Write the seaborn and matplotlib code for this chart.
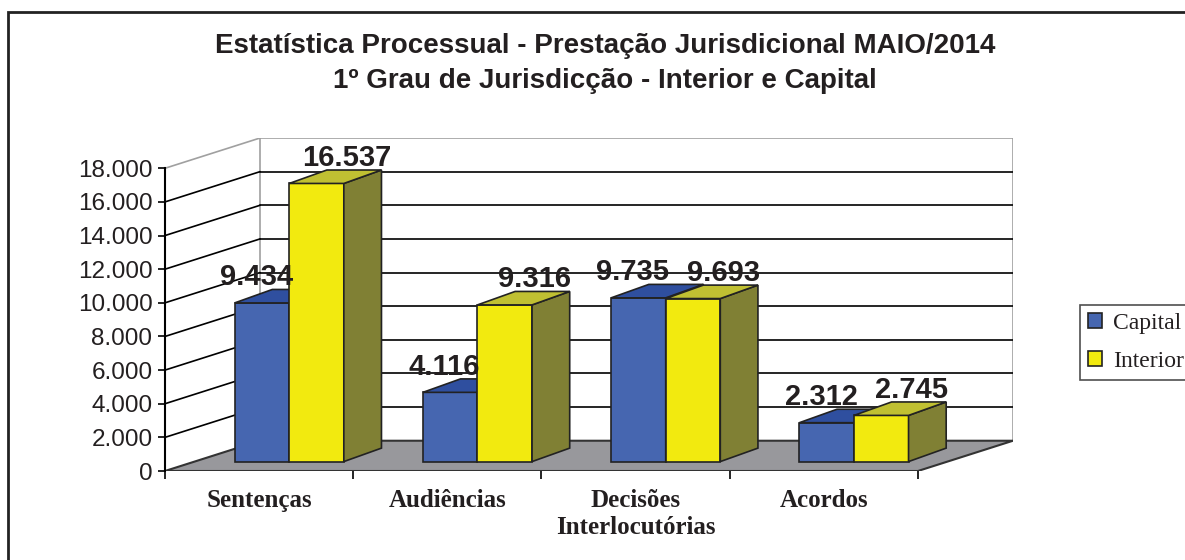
import pandas as pd
import matplotlib
matplotlib.use("Agg")
import matplotlib.pyplot as plt
import seaborn as sns
from matplotlib.patches import Polygon, Rectangle
from matplotlib.ticker import FixedLocator

# dados do grafico
categorias = ["Sentenças", "Audiências", "Decisões\nInterlocutórias", "Acordos"]
series = ["Capital", "Interior"]
capital = [9434, 4116, 9735, 2312]
interior = [16537, 9316, 9693, 2745]
yticks = [0, 2000, 4000, 6000, 8000, 10000, 12000, 14000, 16000, 18000]

df = pd.DataFrame({
    "categoria": categorias * 2,
    "serie": [series[0]] * len(capital) + [series[1]] * len(interior),
    "valor": capital + interior,
})

# cores (frente, topo, lado)
cores = {
    "Capital": ("#4666b0", "#2f4f9f", "#2b3f80"),
    "Interior": ("#f2ea0f", "#c0c032", "#808034"),
}
TXT = "#231f20"

# profundidade do "3D"
DX, DY = 0.505, 1800       # fundo do grafico
OX, OY = 0.16, 560         # recuo da frente das barras
BX, BY = 0.20, 800         # profundidade das barras

sns.set_theme(style="white")
plt.rcParams["font.family"] = ["Liberation Sans", "DejaVu Sans"]
serif = ["Liberation Serif", "DejaVu Serif"]

W, H = 1185, 560
fig = plt.figure(figsize=(W / 100, H / 100), dpi=100)
ax = fig.add_axes([165 / W, 1 - 471 / H, (1013 - 165) / W, (471 - 138) / H])
ax.set_facecolor("none")

x0, x1 = -0.5, len(categorias) - 0.5
ytop = yticks[-1]

# parede do fundo
ax.add_patch(Polygon([(x0 + DX, DY), (x1 + DX, DY), (x1 + DX, ytop + DY), (x0 + DX, ytop + DY)],
                     closed=True, facecolor="white", edgecolor="#a0a0a0", lw=1.2, zorder=0.5))
for v in yticks[1:-1]:
    ax.plot([x0 + DX, x1 + DX], [v + DY, v + DY], color="black", lw=1.2, zorder=0.8)
# parede lateral
for v in yticks[1:]:
    c = "#a0a0a0" if v == ytop else "black"
    ax.plot([x0, x0 + DX], [v, v + DY], color=c, lw=1.2, zorder=0.8)
# piso
ax.add_patch(Polygon([(x0, 0), (x1, 0), (x1 + DX, DY), (x0 + DX, DY)],
                     closed=True, facecolor="#98989c", edgecolor="#333333", lw=1.5, zorder=1))

sns.barplot(data=df, x="categoria", y="valor", hue="serie", order=categorias, hue_order=series,
            palette=[cores[s][0] for s in series], width=0.58, gap=0, saturation=1,
            edgecolor="#222222", linewidth=1.2, legend=False, ax=ax)

for i, (cont, s) in enumerate(zip(ax.containers, series)):
    frente, topo, lado = cores[s]
    for bar in cont:
        bar.set_x(bar.get_x() + OX)
        bar.set_y(OY)
        bar.set_zorder(3 + i)
        a = bar.get_x()
        b = a + bar.get_width()
        h = OY + bar.get_height()
        ax.add_patch(Polygon([(b, OY), (b, h), (b + BX, h + BY), (b + BX, OY + BY)], closed=True,
                             facecolor=lado, edgecolor="#222222", lw=1.2, zorder=3 + i))
        ax.add_patch(Polygon([(a, h), (b, h), (b + BX, h + BY), (a + BX, h + BY)], closed=True,
                             facecolor=topo, edgecolor="#222222", lw=1.2, zorder=3 + i))
        desl = -0.03 if i == 0 else 0.16
        rot = f"{int(bar.get_height()):,}".replace(",", ".")
        ax.text((a + b) / 2 + desl, h + BY + 250, rot, ha="center", va="baseline",
                fontsize=21, fontweight="bold", color=TXT, zorder=10)

ax.set_xlim(x0, x1 + DX)
ax.set_ylim(0, ytop + DY)
ax.set_xlabel("")
ax.set_ylabel("")

for sp in ["top", "right"]:
    ax.spines[sp].set_visible(False)
ax.spines["bottom"].set_visible(False)
ax.spines["left"].set_bounds(0, ytop)
ax.spines["left"].set_color("black")
ax.spines["left"].set_linewidth(1.5)

ax.set_yticks(yticks)
ax.set_yticklabels([f"{v:,}".replace(",", ".") for v in yticks])
ax.tick_params(axis="y", direction="out", length=5, width=1.2, color="black", pad=4,
               labelsize=17.5, labelcolor=TXT, left=True)

ax.set_xticks(range(len(categorias)))
ax.set_xticklabels(categorias, family=serif, fontweight="bold", fontsize=18,
                   color=TXT, linespacing=1.2)
ax.xaxis.set_minor_locator(FixedLocator([x0 + k for k in range(len(categorias) + 1)]))
ax.tick_params(axis="x", which="major", length=0, pad=13)
ax.tick_params(axis="x", which="minor", direction="out", length=6, width=1.2, color="black", bottom=True)

# titulo
fig.text(605 / W, 1 - 46 / H, "Estatística Processual - Prestação Jurisdicional MAIO/2014",
         ha="center", va="center", fontsize=20, fontweight="bold", color=TXT)
fig.text(605 / W, 1 - 81 / H, "1º Grau de Jurisdicção - Interior e Capital",
         ha="center", va="center", fontsize=20, fontweight="bold", color=TXT)

# legenda
handles = [Rectangle((0, 0), 1, 1, facecolor=cores[s][0], edgecolor="#222222", lw=1.2) for s in series]
leg = fig.legend(handles, series, loc="upper left", bbox_to_anchor=(1080 / W, 1 - 305 / H),
                 frameon=True, fancybox=False, edgecolor="#222222", borderaxespad=0,
                 handlelength=0.6, handleheight=0.6, handletextpad=0.45, labelspacing=0.7,
                 borderpad=0.35, prop={"family": serif, "size": 17})
leg.get_frame().set_linewidth(1.2)
for t in leg.get_texts():
    t.set_color(TXT)

# moldura
fig.patches.append(Rectangle((8 / W, -0.1), 1.2, 1 - 12 / H + 0.1, transform=fig.transFigure,
                             fill=False, edgecolor="#222222", lw=2))

fig.savefig("out.png", dpi=100)
